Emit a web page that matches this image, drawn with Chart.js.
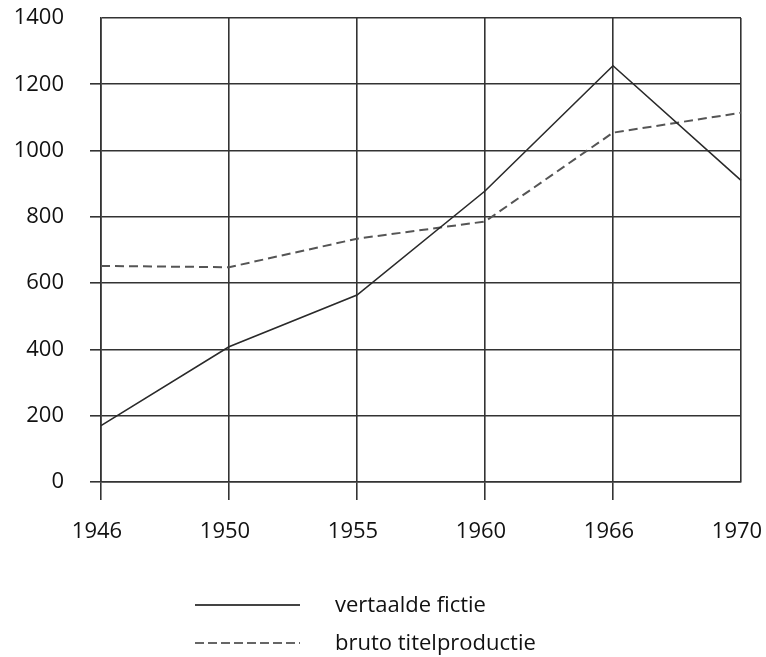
<!DOCTYPE html>
<html>
<head>
<meta charset="utf-8">
<script src="https://cdn.jsdelivr.net/npm/chart.js@4"></script>
<style>
  html, body { margin: 0; padding: 0; background: #fff; overflow: hidden; }
  #wrap { position: relative; width: 766px; height: 657px; }
  #chart { position: absolute; left: 0; top: 0; }
  .legend-line { position: absolute; left: 195px; width: 105px; height: 2px; }
  .legend-text { position: absolute; left: 335px; font-family: "Open Sans", sans-serif; font-size: 22px; color: #111; line-height: 30px; white-space: nowrap; }
</style>
</head>
<body>
<div id="wrap">
  <canvas id="chart" width="766" height="657"></canvas>
  <div class="legend-line" style="top:604px; background:#444;"></div>
  <div class="legend-text" style="top:588px;">vertaalde fictie</div>
  <div class="legend-line" style="top:642px; background:repeating-linear-gradient(to right, #666 0 9px, transparent 9px 13px);"></div>
  <div class="legend-text" style="top:626px;">bruto titelproductie</div>
</div>
<script>
const years = ["1946", "1950", "1955", "1960", "1966", "1970"];
const vertaaldeFictie = [170, 408, 564, 878, 1256, 910];
const brutoTitelproductie = [652, 648, 734, 786, 1054, 1114];
const yTicks = [0, 200, 400, 600, 800, 1000, 1200, 1400];

const lineColor = "#333";

const chart = new Chart(document.getElementById("chart"), {
  type: "line",
  data: {
    labels: years,
    datasets: [
      {
        label: "vertaalde fictie",
        data: vertaaldeFictie,
        borderColor: "#2a2a2a",
        borderWidth: 1.6,
        pointRadius: 0,
        tension: 0,
        fill: false
      },
      {
        label: "bruto titelproductie",
        data: brutoTitelproductie,
        borderColor: "#555",
        borderWidth: 2,
        borderDash: [9, 5],
        pointRadius: 0,
        tension: 0,
        fill: false
      }
    ]
  },
  options: {
    responsive: false,
    animation: false,
    layout: { padding: { left: 0, right: 25, top: 18, bottom: 105 } },
    plugins: {
      legend: { display: false },
      tooltip: { enabled: false }
    },
    scales: {
      x: {
        type: "category",
        offset: false,
        grid: {
          color: lineColor,
          lineWidth: 1.6,
          tickLength: 18,
          tickColor: ctx => ctx.index === years.length - 1 ? "transparent" : lineColor
        },
        border: { color: lineColor, width: 1.6 },
        ticks: {
          color: "#111",
          padding: 19,
          labelOffset: -4,
          maxRotation: 0,
          font: { family: "Open Sans", size: 22 }
        },
        afterFit: scale => {
          scale.height = 70;
          scale.paddingLeft = 0;
          scale.paddingRight = 0;
        }
      },
      y: {
        min: 0,
        max: 1400,
        afterBuildTicks: scale => {
          scale.ticks = yTicks.map(v => ({ value: v }));
        },
        grid: {
          color: lineColor,
          lineWidth: 1.6,
          tickLength: 11,
          tickColor: ctx => ctx.tick && ctx.tick.value === 1400 ? "transparent" : lineColor
        },
        border: { color: lineColor, width: 1.6 },
        ticks: {
          color: "#111",
          padding: 26,
          font: { family: "Open Sans", size: 22 },
          callback: v => String(v)
        },
        afterFit: scale => {
          scale.width = 101;
          scale.paddingTop = 0;
          scale.paddingBottom = 0;
        }
      }
    }
  }
});
</script>
</body>
</html>
